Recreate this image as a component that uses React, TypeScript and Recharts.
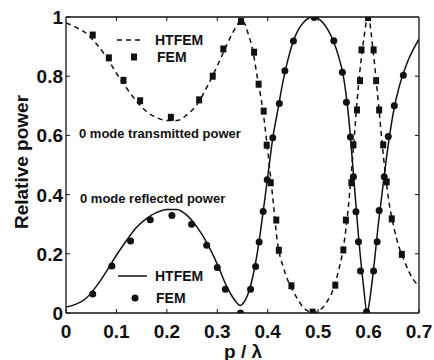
import React from "react";
import { ComposedChart, Line, Scatter, XAxis, YAxis } from "recharts";

const X_TICKS = [0, 0.1, 0.2, 0.3, 0.4, 0.5, 0.6, 0.7];
const X_TICK_LABELS = ["0", "0.1", "0.2", "0.3", "0.4", "0.5", "0.6", "0.7"];
const Y_TICKS = [0, 0.2, 0.4, 0.6, 0.8, 1];
const Y_TICK_LABELS = ["0", "0.2", "0.4", "0.6", "0.8", "1"];

// HTFEM, 0 mode transmitted power (dashed)
const HT_T_X = [
  0, 0.02, 0.04, 0.06, 0.08, 0.1, 0.12, 0.14, 0.16, 0.18, 0.2, 0.22, 0.24, 0.26, 0.28, 0.3,
  0.32, 0.33, 0.34, 0.347, 0.355, 0.36, 0.37, 0.38, 0.39, 0.4, 0.41, 0.42, 0.43, 0.44, 0.45,
  0.46, 0.47, 0.48, 0.49, 0.5, 0.51, 0.52, 0.53, 0.54, 0.55, 0.56, 0.57, 0.58, 0.59, 0.599,
  0.61, 0.62, 0.63, 0.64, 0.65, 0.66, 0.67, 0.68, 0.69, 0.7,
];
const HT_T_Y = [
  0.98, 0.965, 0.945, 0.91, 0.865, 0.81, 0.76, 0.715, 0.68, 0.66, 0.65, 0.65, 0.67, 0.705, 0.765, 0.835,
  0.91, 0.945, 0.975, 0.99, 0.975, 0.95, 0.89, 0.79, 0.69, 0.55, 0.39, 0.23, 0.16, 0.11, 0.075,
  0.045, 0.02, 0.006, 0, 0.006, 0.02, 0.045, 0.08, 0.14, 0.22, 0.36, 0.56, 0.77, 0.92, 1,
  0.87, 0.7, 0.52, 0.38, 0.29, 0.225, 0.18, 0.14, 0.11, 0.09,
];

// HTFEM, 0 mode reflected power (solid)
const HT_R_X = [
  0, 0.02, 0.04, 0.06, 0.08, 0.1, 0.12, 0.14, 0.16, 0.18, 0.2, 0.22, 0.24, 0.26, 0.28, 0.3,
  0.32, 0.33, 0.34, 0.346, 0.35, 0.36, 0.37, 0.38, 0.39, 0.4, 0.41, 0.42, 0.43, 0.44, 0.45,
  0.46, 0.47, 0.48, 0.49, 0.5, 0.51, 0.52, 0.53, 0.54, 0.55, 0.56, 0.57, 0.58, 0.59, 0.597,
  0.6, 0.61, 0.62, 0.63, 0.64, 0.65, 0.66, 0.67, 0.68, 0.69, 0.7,
];
const HT_R_Y = [
  0.02, 0.03, 0.05, 0.09, 0.14, 0.195, 0.245, 0.29, 0.32, 0.34, 0.35, 0.35, 0.33, 0.29, 0.235, 0.165,
  0.085, 0.055, 0.032, 0.025, 0.03, 0.06, 0.12, 0.21, 0.33, 0.46, 0.59, 0.685, 0.78, 0.855, 0.915,
  0.955, 0.98, 0.995, 1, 0.995, 0.98, 0.955, 0.92, 0.87, 0.8, 0.67, 0.47, 0.26, 0.09, 0,
  0.02, 0.15, 0.31, 0.45, 0.58, 0.685, 0.76, 0.815, 0.86, 0.895, 0.925,
];

// FEM points
const FEM_T_X = [
  0.053, 0.085, 0.114, 0.147, 0.208, 0.264, 0.291, 0.312, 0.347, 0.373, 0.382, 0.392, 0.398, 0.406,
  0.417, 0.422, 0.447, 0.489, 0.534, 0.55, 0.555, 0.566, 0.57, 0.577, 0.583, 0.586, 0.599, 0.61,
  0.615, 0.621, 0.629, 0.636, 0.646, 0.666,
];
const FEM_T_Y = [
  0.939, 0.862, 0.786, 0.717, 0.661, 0.72, 0.8, 0.892, 0.985, 0.881, 0.773, 0.682, 0.567, 0.44,
  0.314, 0.212, 0.092, 0.003, 0.094, 0.213, 0.314, 0.44, 0.568, 0.686, 0.785, 0.889, 0.998, 0.889,
  0.785, 0.686, 0.568, 0.443, 0.318, 0.198,
];
const FEM_R_X = [
  0.053, 0.091, 0.128, 0.167, 0.21, 0.249, 0.279, 0.3, 0.316, 0.346, 0.366, 0.376, 0.383, 0.391,
  0.399, 0.41, 0.423, 0.434, 0.451, 0.492, 0.531, 0.548, 0.556, 0.564, 0.57, 0.575, 0.58, 0.584,
  0.596, 0.61, 0.617, 0.621, 0.631, 0.639, 0.651, 0.669,
];
const FEM_R_Y = [
  0.064, 0.159, 0.243, 0.315, 0.329, 0.3, 0.229, 0.154, 0.08, 0, 0.08, 0.157, 0.24, 0.343,
  0.45, 0.592, 0.708, 0.818, 0.919, 0.998, 0.92, 0.813, 0.712, 0.595, 0.46, 0.342, 0.241, 0.142,
  0.004, 0.142, 0.241, 0.346, 0.46, 0.596, 0.7, 0.803,
];

const zip = (xs: number[], ys: number[]) => xs.map((x, i) => ({ x, y: ys[i] }));

const htT = zip(HT_T_X, HT_T_Y);
const htR = zip(HT_R_X, HT_R_Y);
const femT = zip(FEM_T_X, FEM_T_Y);
const femR = zip(FEM_R_X, FEM_R_Y);

const FONT = "'Liberation Sans', Arial, Helvetica, sans-serif";
const INK = "#111";
const TICK_LEN = 4;
const TICK_FONT = 19;

function BottomTick(props: any) {
  const { x, y, payload } = props;
  const label = X_TICK_LABELS[X_TICKS.indexOf(payload.value)];
  return (
    <g>
      <line x1={x} y1={y} x2={x} y2={y - TICK_LEN} stroke={INK} />
      <text x={x} y={y + 25} textAnchor="middle" fontSize={TICK_FONT} fontWeight="bold" fontFamily={FONT} fill={INK}>
        {label}
      </text>
    </g>
  );
}

function LeftTick(props: any) {
  const { x, y, payload } = props;
  const label = Y_TICK_LABELS[Y_TICKS.indexOf(payload.value)];
  return (
    <g>
      <line x1={x} y1={y} x2={x + TICK_LEN} y2={y} stroke={INK} />
      <text x={x - 3} y={y + 7} textAnchor="end" fontSize={TICK_FONT} fontWeight="bold" fontFamily={FONT} fill={INK}>
        {label}
      </text>
    </g>
  );
}

function TopTick(props: any) {
  const { x, y } = props;
  return <line x1={x} y1={y} x2={x} y2={y + TICK_LEN} stroke={INK} />;
}

function RightTick(props: any) {
  const { x, y } = props;
  return <line x1={x} y1={y} x2={x - TICK_LEN} y2={y} stroke={INK} />;
}

const squareShape = (p: any) => (
  <rect x={p.cx - 3} y={p.cy - 3.5} width={6} height={7} fill={INK} />
);
const circleShape = (p: any) => <circle cx={p.cx} cy={p.cy} r={3.5} fill={INK} />;

function Txt({ left, top, size, children }: { left: number; top: number; size: number; children: React.ReactNode }) {
  return (
    <div
      style={{
        position: "absolute",
        left,
        top,
        transform: "translateY(-50%)",
        fontFamily: FONT,
        fontWeight: "bold",
        fontSize: size,
        lineHeight: 1,
        color: INK,
        whiteSpace: "nowrap",
      }}
    >
      {children}
    </div>
  );
}

export default function App() {
  return (
    <div style={{ position: "absolute", left: 0, top: 0, width: 434, height: 360, background: "#fff" }}>
      {/* axes get 1px boxes (0 would hide them), margins shrunk by 1 to compensate */}
      <ComposedChart width={434} height={360} margin={{ top: 16, right: 14, bottom: 46, left: 65 }}>
        <XAxis
          dataKey="x"
          type="number"
          domain={[0, 0.7]}
          ticks={X_TICKS}
          height={1}
          tickSize={0}
          tickMargin={0}
          tickLine={false}
          tick={BottomTick}
          axisLine={{ stroke: INK, strokeWidth: 1.3 }}
          interval={0}
          allowDataOverflow
        />
        <XAxis
          xAxisId="top"
          orientation="top"
          dataKey="x"
          type="number"
          domain={[0, 0.7]}
          ticks={X_TICKS.slice(1, -1)}
          height={1}
          tickSize={0}
          tickMargin={0}
          tickLine={false}
          tick={TopTick}
          axisLine={{ stroke: INK, strokeWidth: 1.3 }}
          interval={0}
          allowDataOverflow
        />
        <YAxis
          dataKey="y"
          type="number"
          domain={[0, 1]}
          ticks={Y_TICKS}
          width={1}
          tickSize={0}
          tickMargin={0}
          tickLine={false}
          tick={LeftTick}
          axisLine={{ stroke: INK, strokeWidth: 1.3 }}
          interval={0}
          allowDataOverflow
        />
        <YAxis
          yAxisId="right"
          orientation="right"
          dataKey="y"
          type="number"
          domain={[0, 1]}
          ticks={Y_TICKS.slice(1, -1)}
          width={1}
          tickSize={0}
          tickMargin={0}
          tickLine={false}
          tick={RightTick}
          axisLine={{ stroke: INK, strokeWidth: 1.3 }}
          interval={0}
          allowDataOverflow
        />
        <Line
          data={htT}
          dataKey="y"
          type="monotone"
          stroke={INK}
          strokeWidth={1.5}
          strokeDasharray="5 4"
          dot={false}
          activeDot={false}
          isAnimationActive={false}
        />
        <Line
          data={htR}
          dataKey="y"
          type="monotone"
          stroke={INK}
          strokeWidth={1.5}
          dot={false}
          activeDot={false}
          isAnimationActive={false}
        />
        <Scatter data={femT} dataKey="y" shape={squareShape} isAnimationActive={false} />
        <Scatter data={femR} dataKey="y" shape={circleShape} isAnimationActive={false} />
      </ComposedChart>

      {/* in-plot legends */}
      <svg style={{ position: "absolute", left: 0, top: 0, pointerEvents: "none" }} width={434} height={360}>
        <line x1={117} y1={40} x2={144} y2={40} stroke={INK} strokeWidth={1.5} strokeDasharray="5 4" />
        <rect x={131} y={53.5} width={6} height={7} fill={INK} />
        <line x1={118} y1={276} x2={147} y2={276} stroke={INK} strokeWidth={1.5} />
        <circle cx={135} cy={298} r={3.5} fill={INK} />
      </svg>
      <Txt left={155} top={40} size={14}>HTFEM</Txt>
      <Txt left={157} top={57} size={14}>FEM</Txt>
      <Txt left={155} top={276} size={14}>HTFEM</Txt>
      <Txt left={156} top={298} size={14}>FEM</Txt>
      <Txt left={79} top={133} size={13}>0 mode transmitted power</Txt>
      <Txt left={80} top={198} size={13}>0 mode reflected power</Txt>

      {/* axis titles */}
      <div
        style={{
          position: "absolute",
          left: 21,
          top: 162,
          transform: "translate(-50%, -50%) rotate(-90deg)",
          fontFamily: FONT,
          fontWeight: "bold",
          fontSize: 19,
          lineHeight: 1,
          color: INK,
          whiteSpace: "nowrap",
        }}
      >
        Relative power
      </div>
      <div
        style={{
          position: "absolute",
          left: 243,
          top: 351,
          transform: "translate(-50%, -50%)",
          fontFamily: FONT,
          fontWeight: "bold",
          fontSize: 19,
          lineHeight: 1,
          color: INK,
          whiteSpace: "nowrap",
        }}
      >
        p / λ
      </div>
    </div>
  );
}
